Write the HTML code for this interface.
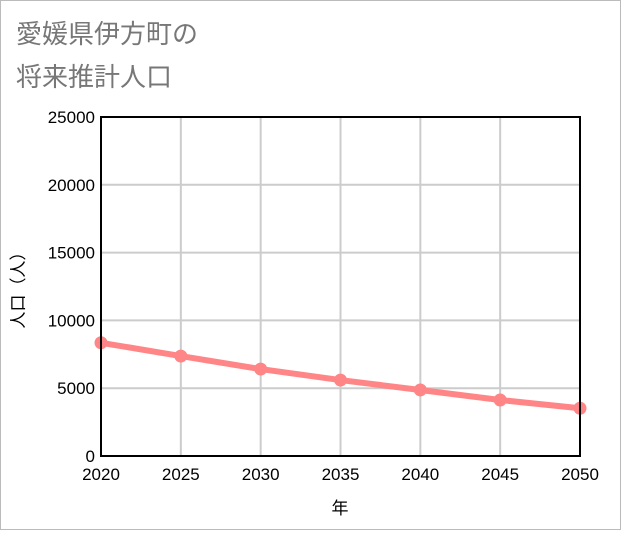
<!DOCTYPE html>
<html><head><meta charset="utf-8"><style>
body{margin:0;background:#fff}
svg text{font-family:"Liberation Sans","Noto Sans CJK JP",sans-serif}
</style></head><body>
<svg width="621" height="530" id="c">
<rect x="0.5" y="0.5" width="620" height="529" fill="#fff" stroke="#bbb"/>
<text x="16" y="43" font-size="26" fill="#777">愛媛県伊方町の</text>
<text x="16" y="86" font-size="26" fill="#777">将来推計人口</text>
<g id="grid"></g>
<g id="series"></g>
<rect x="101" y="117" width="479" height="339" fill="none" stroke="#000" stroke-width="2"/>
<text x="340" y="514" font-size="17" text-anchor="middle">年</text>
<text transform="translate(24,286) rotate(-90)" font-size="17" text-anchor="middle">人口（人）</text>
</svg>
<script>
const years=[2020,2025,2030,2035,2040,2045,2050];
const population=[8350,7370,6410,5600,4870,4130,3520];
const yTicks=[0,5000,10000,15000,20000,25000];
const L=101,R=580,T=117,B=456;
const xs=v=>L+(v-2020)/30*(R-L);
const ys=v=>B-v/25000*(B-T);
const ns="http://www.w3.org/2000/svg";
const grid=document.getElementById('grid'),ser=document.getElementById('series');
function mk(tag,attrs,parent){const e=document.createElementNS(ns,tag);for(const k in attrs)e.setAttribute(k,attrs[k]);parent.appendChild(e);return e;}
yTicks.forEach(t=>{
 const l=mk('line',{x1:L,x2:R,y1:ys(t),y2:ys(t),stroke:'#ccc','stroke-width':2},grid);
 
 
 const tx=mk('text',{x:L-6,y:ys(t)+6,'font-size':17,'text-anchor':'end'},grid);tx.textContent=t;
 
 
});
years.forEach(y=>{
 const l=mk('line',{x1:xs(y),x2:xs(y),y1:T,y2:B,stroke:'#ccc','stroke-width':2},grid);
 
 
 const tx=mk('text',{x:xs(y),y:480,'font-size':17,'text-anchor':'middle'},grid);tx.textContent=y;
 
 
});
const pl=mk('polyline',{points:years.map((y,i)=>xs(y)+','+ys(population[i])).join(' '),fill:'none',stroke:'#ff8586','stroke-width':6},ser);


years.forEach((y,i)=>{
 const c=mk('circle',{cx:xs(y),cy:ys(population[i]),r:6.5,fill:'#ff8586'},ser);
 
 
});
</script>
</body></html>
